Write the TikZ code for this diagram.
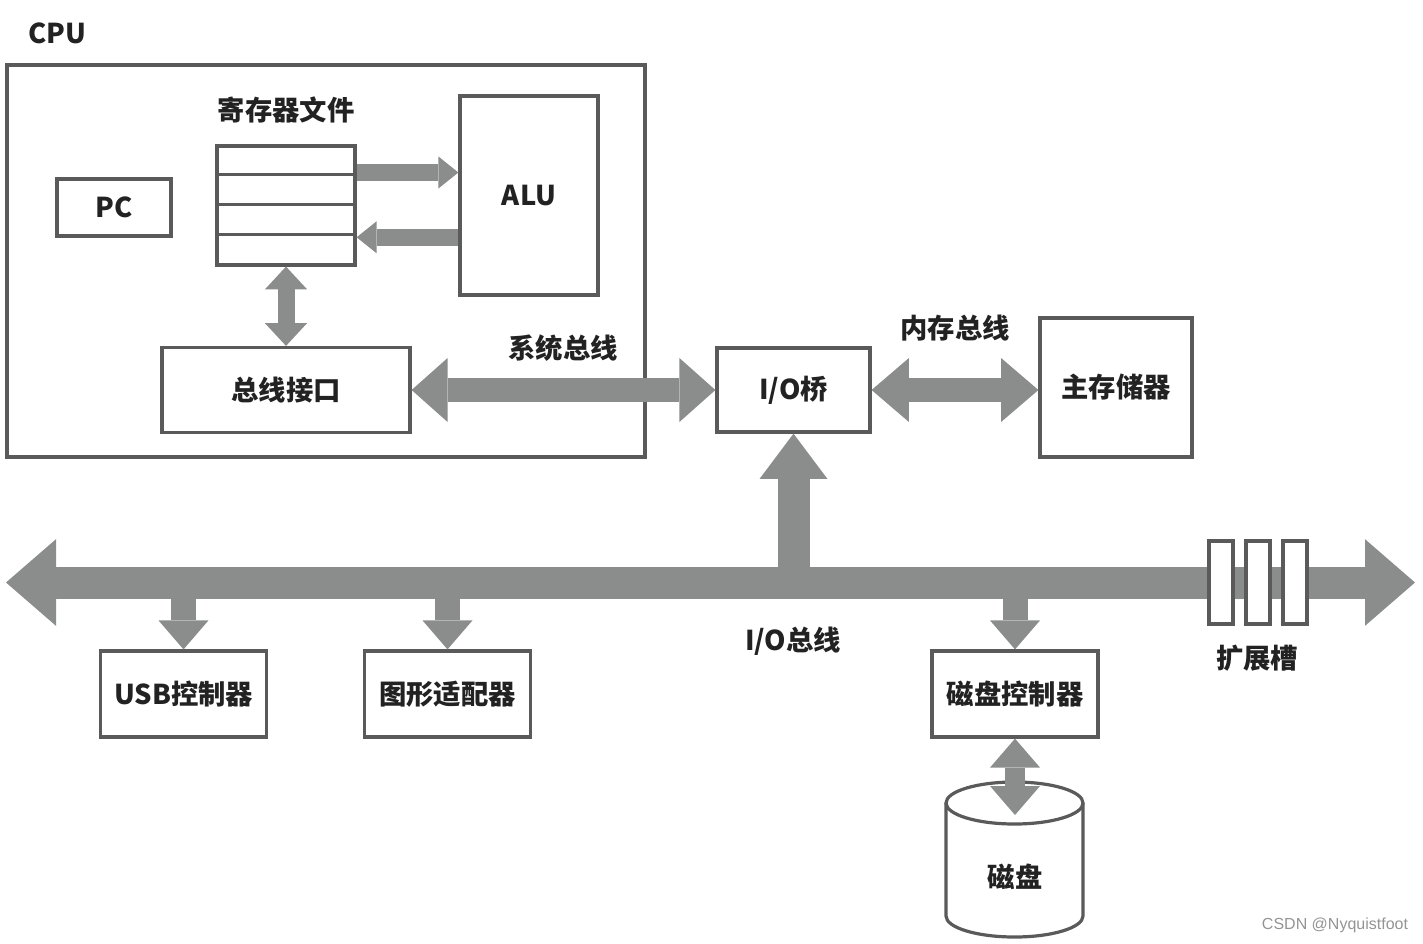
\documentclass[tikz,border=0pt]{standalone}
\usepackage{fontspec}
\newfontfamily\cjk{Noto Sans CJK SC}
\newfontfamily\wmfont{Liberation Sans}
\usetikzlibrary{arrows.meta,calc}

\definecolor{busgray}{HTML}{8A8D8B}
\definecolor{boxgray}{HTML}{5A5A5A}
\definecolor{txtgray}{HTML}{222222}
\def\px{0.75pt}

\tikzset{
  box/.style={draw=boxgray, line width=2.4pt, fill=white, inner sep=0pt,
    font=\cjk\bfseries\fontsize{20.5}{24}\selectfont, text=txtgray},
  sz/.style 2 args={minimum width=#1*\px, minimum height=#2*\px},
  lbl/.style={font=\cjk\bfseries\fontsize{20.5}{24}\selectfont, text=txtgray, inner sep=0pt},
  fat/.style n args={3}{draw=busgray, line width=#1,
    arrows={-{Triangle[length=#2, width=#3, line width=0pt]}}},
  fatboth/.style n args={3}{draw=busgray, line width=#1,
    arrows={{Triangle[length=#2, width=#3, line width=0pt]}-{Triangle[length=#2, width=#3, line width=0pt]}}},
}

\begin{document}
\begin{tikzpicture}[x=0.75pt, y=-0.75pt]
  \useasboundingbox (0,0) rectangle (1423,943);

  % CPU
  \node[box, sz={638}{392}] (cpu) at (326,261) {};
  \node[lbl] (cpulbl) at (57,33) {CPU};
  \node[box, sz={114}{57}] (pc) at (114,207.5) {PC};
  \node[box, sz={138}{119}] (regs) at (286,205.5) {};
  \foreach \f in {0.245,0.49,0.735}
    \draw[draw=boxgray, line width=2.4pt]
      ($(regs.north west)!\f!(regs.south west)$) -- ($(regs.north east)!\f!(regs.south east)$);
  \node[lbl] (regslbl) at (286,110) {寄存器文件};
  \node[box, sz={138}{199}] (alu) at (529,195.5) {ALU};
  \node[box, sz={248}{85}] (busif) at (286,390) {总线接口};

  \coordinate (r1) at ($(regs.north east)!0.23!(regs.south east)$);
  \coordinate (r2) at ($(regs.north east)!0.76!(regs.south east)$);
  \draw[fat={12.75pt}{15pt}{24pt}] (r1) -- (alu.west |- r1);
  \draw[fat={12.75pt}{15pt}{24pt}] (alu.west |- r2) -- (r2);
  \draw[fatboth={12.75pt}{17pt}{31.5pt}] (regs.south) -- (busif.north);

  % bridge and memory
  \node[box, sz={153}{84}] (iob) at (793.5,390) {I/O桥};
  \node[box, sz={152}{139}] (mem) at (1116,387.5) {主存储器};
  \draw[fatboth={18pt}{27pt}{48pt}] (busif.east) -- (iob.west);
  \draw[fatboth={18pt}{28pt}{48pt}] (iob.east) -- (mem.west |- iob.east);
  \node[lbl] (sysbus) at (563,348) {系统总线};
  \node[lbl] (membus) at (955,328) {内存总线};

  % I/O bus
  \coordinate (busL) at (6,582.5);
  \coordinate (busR) at (1415,582.5);
  \draw[fatboth={24pt}{37.5pt}{65pt}] (busL) -- (busR);
  \draw[fat={24pt}{34pt}{51pt}] (iob.south |- busL) -- (iob.south);
  \node[lbl] (iobus) at (793,641) {I/O总线};

  \node[box, sz={166}{86}] (usb) at (183.5,694) {USB控制器};
  \node[box, sz={166}{86}] (gfx) at (447.5,694) {图形适配器};
  \node[box, sz={166}{86}] (dctl) at (1015,694) {磁盘控制器};
  \foreach \n in {usb,gfx,dctl}
    \draw[fat={18.75pt}{21.75pt}{37.5pt}] (\n.north |- busL) -- (\n.north);

  % expansion slots
  \foreach \sx [count=\i] in {1221,1258,1295}
    \node[box, sz={24}{83}] (slot\i) at (\sx,582.5) {};
  \node[lbl] (slotlbl) at (1257,658) {扩展槽};

  % disk
  \draw[draw=boxgray, line width=2.4pt, fill=white]
    (946,803) -- (946,916) arc[start angle=180, end angle=0, x radius=68.5, y radius=21]
    -- (1083,803);
  \draw[draw=boxgray, line width=2.4pt, fill=white]
    (1014.5,803) ellipse [x radius=68.5, y radius=21];
  \coordinate (disktop) at (1015,815);
  \node[lbl] (disk) at (1015,877) {磁盘};
  \draw[fatboth={15pt}{21.75pt}{37.5pt}] (dctl.south) -- (disktop);

  \node[font=\wmfont\fontsize{12}{14}\selectfont, text=black!42, inner sep=0pt] (wm) at (1335,925) {CSDN @Nyquistfoot};
\end{tikzpicture}
\end{document}
